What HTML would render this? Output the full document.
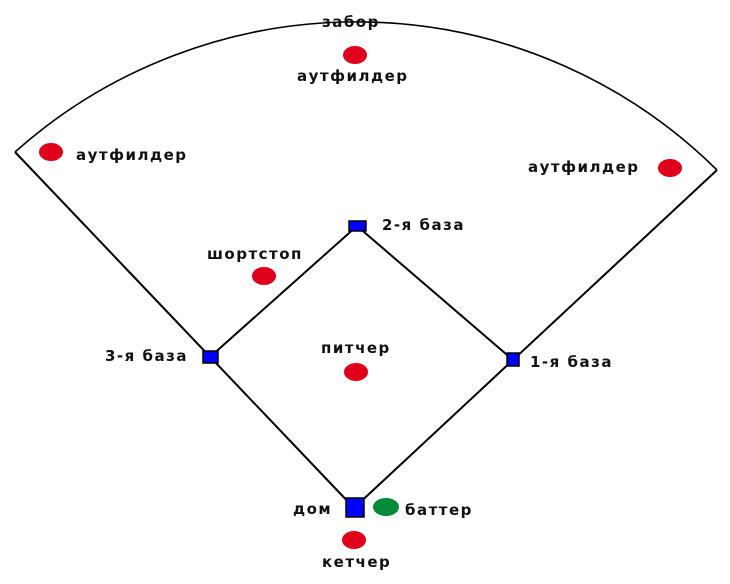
<!DOCTYPE html>
<html><head><meta charset="utf-8"><style>
html,body{margin:0;padding:0;background:#fff;width:730px;height:584px;overflow:hidden}
svg text{font-family:"DejaVu Sans",sans-serif;font-weight:bold;font-size:15px;letter-spacing:1.5px;fill:#111}
</style></head><body>
<svg width="730" height="584" xmlns="http://www.w3.org/2000/svg">
<g stroke="#000" stroke-width="2" fill="none">
<path d="M15 152 A513 513 0 0 1 717 170" stroke-width="1.6"/>
<line x1="15" y1="152" x2="354" y2="508"/>
<line x1="717" y1="170" x2="354" y2="508"/>
<line x1="210" y1="357" x2="357" y2="226"/>
<line x1="357" y1="226" x2="513" y2="360"/>
</g>
<g fill="#0000ff" stroke="#000" stroke-width="1.5">
<rect x="349" y="221" width="17" height="10"/>
<rect x="203" y="351" width="15" height="12"/>
<rect x="507" y="353" width="12" height="13"/>
<rect x="346" y="498" width="18" height="19"/>
</g>
<g fill="#e0001b">
<ellipse cx="355" cy="55" rx="12" ry="9"/>
<ellipse cx="51" cy="152" rx="12" ry="9"/>
<ellipse cx="670" cy="168" rx="12" ry="9"/>
<ellipse cx="264" cy="276" rx="12" ry="9"/>
<ellipse cx="356" cy="372" rx="12" ry="9"/>
<ellipse cx="354" cy="540" rx="12" ry="9"/>
</g>
<ellipse cx="386" cy="507" rx="13" ry="9" fill="#008a3a"/>
<text x="322" y="27">забор</text>
<text x="297" y="81">аутфилдер</text>
<text x="76" y="160">аутфилдер</text>
<text x="528" y="172">аутфилдер</text>
<text x="382" y="230">2-я база</text>
<text x="207" y="259">шортстоп</text>
<text x="321" y="353">питчер</text>
<text x="105" y="361">3-я база</text>
<text x="530" y="367">1-я база</text>
<text x="293" y="514">дом</text>
<text x="405" y="515">баттер</text>
<text x="322" y="567">кетчер</text>
</svg>
</body></html>
